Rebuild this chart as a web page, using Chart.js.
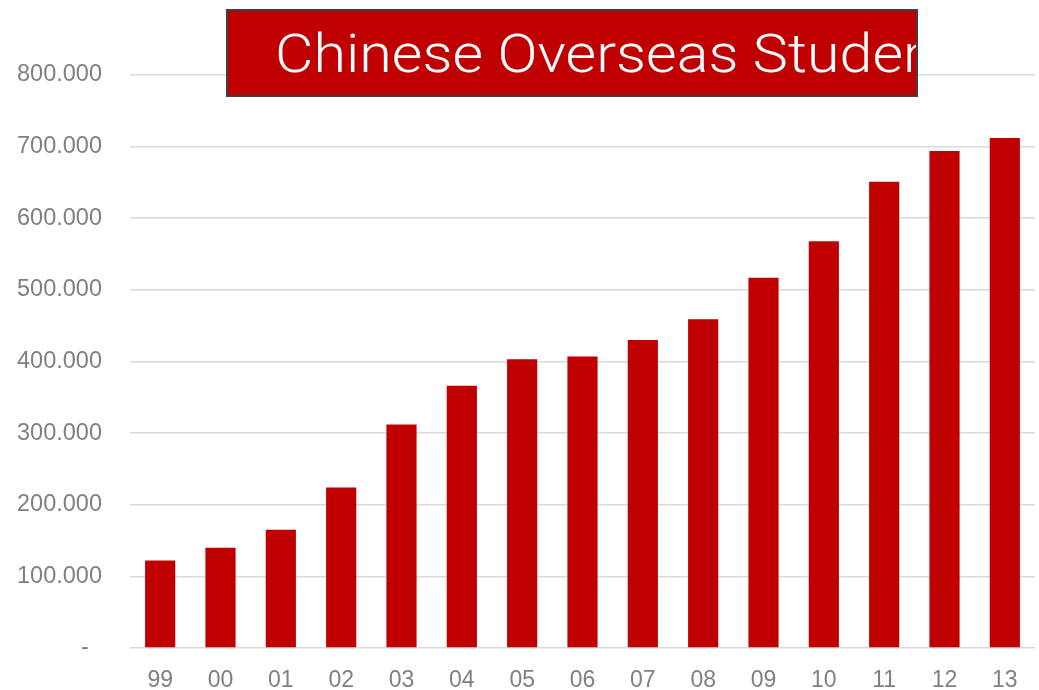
<!DOCTYPE html>
<html>
<head>
<meta charset="utf-8">
<script src="https://cdn.jsdelivr.net/npm/chart.js@4/dist/chart.umd.min.js"></script>
<style>
  html, body { margin: 0; padding: 0; background: #ffffff; }
  #wrap { width: 1039px; height: 690px; }
</style>
</head>
<body>
<div id="wrap"><canvas id="c" width="1039" height="690"></canvas></div>
<script>
// Years (two-digit) and number of students
const years = ['99', '00', '01', '02', '03', '04', '05', '06', '07', '08', '09', '10', '11', '12', '13'];
const students = [122000, 140000, 165000, 224000, 312000, 366000, 403000, 407000, 430000, 459000, 517000, 568000, 651000, 694000, 712000];
const yTicks = [0, 100000, 200000, 300000, 400000, 500000, 600000, 700000, 800000];
const titleText = 'Chinese Overseas Students';

function fmt(v) {
  if (v === 0) return '-  ';
  return String(v).replace(/\B(?=(\d{3})+(?!\d))/g, '.');
}

// Title banner drawn over the chart, clipped to its box
const titleBanner = {
  id: 'titleBanner',
  afterDraw(chart) {
    const ctx = chart.ctx;
    const x = 227, y = 10, w = 690, h = 86;
    ctx.save();
    ctx.fillStyle = '#c00000';
    ctx.fillRect(x, y, w, h);
    ctx.beginPath();
    ctx.rect(x, y, w, h);
    ctx.clip();
    ctx.font = '300 54px Roboto, "Liberation Sans", sans-serif';
    ctx.fillStyle = '#ffffff';
    ctx.textBaseline = 'alphabetic';
    const ref = ctx.measureText('Chinese Overseas Stude').width;
    const sx = 628 / ref;
    ctx.translate(275, 72);
    ctx.scale(sx, 1);
    ctx.fillText(titleText, 0, 0);
    ctx.restore();
    ctx.save();
    ctx.strokeStyle = '#404040';
    ctx.lineWidth = 2;
    ctx.strokeRect(x, y, w, h);
    ctx.restore();
  }
};

new Chart(document.getElementById('c'), {
  type: 'bar',
  data: {
    labels: years,
    datasets: [{
      data: students,
      backgroundColor: '#c00000',
      borderWidth: 0,
      barPercentage: 0.5,
      categoryPercentage: 1.0
    }]
  },
  options: {
    responsive: false,
    animation: false,
    layout: { padding: { top: 75, left: 0, right: 4, bottom: 0 } },
    plugins: { legend: { display: false }, tooltip: { enabled: false } },
    scales: {
      x: {
        grid: { display: false, drawTicks: false },
        border: { display: false },
        ticks: {
          color: '#808080',
          font: { family: '"Liberation Sans", Arial, sans-serif', size: 23, lineHeight: 1 },
          padding: 21
        },
        afterFit(s) { s.height = 39; }
      },
      y: {
        min: 0,
        max: 800000,
        afterBuildTicks(s) { s.ticks = yTicks.map(v => ({ value: v })); },
        grid: { color: '#d9d9d9', lineWidth: 1.5, drawTicks: false },
        border: { display: false },
        ticks: {
          color: '#808080',
          font: { family: '"Liberation Sans", Arial, sans-serif', size: 23.5 },
          padding: 28,
          callback: v => fmt(v)
        },
        afterFit(s) { s.width = 130; }
      }
    }
  },
  plugins: [titleBanner]
});
</script>
</body>
</html>
